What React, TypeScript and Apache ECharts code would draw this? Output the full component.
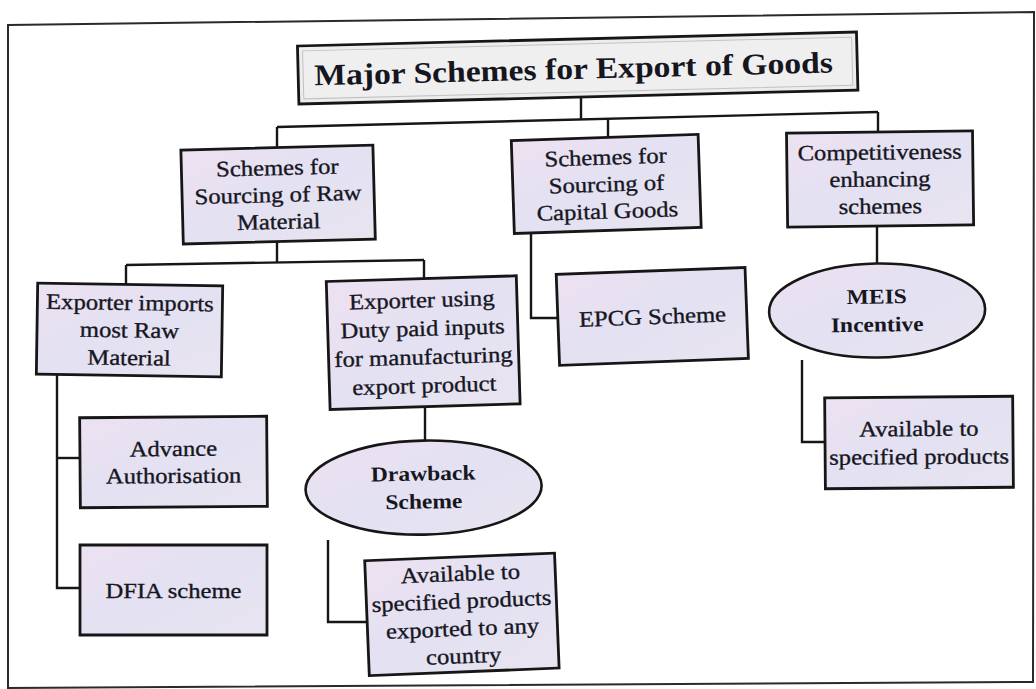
import React, { useEffect, useRef } from "react";
import * as echarts from "echarts";

// ---- Diagram content (texts) ----
const TITLE = "Major Schemes for Export of Goods";
const LEVEL1 = [
  "Schemes for\nSourcing of Raw\nMaterial",
  "Schemes for\nSourcing of\nCapital Goods",
  "Competitiveness\nenhancing\nschemes",
];
const RAW_CHILDREN = [
  "Exporter imports\nmost Raw\nMaterial",
  "Exporter using\nDuty paid inputs\nfor manufacturing\nexport product",
];
const IMPORT_SCHEMES = ["Advance\nAuthorisation", "DFIA scheme"];
const DUTY_SCHEME = "Drawback\nScheme";
const DUTY_NOTE = "Available to\nspecified products\nexported to any\ncountry";
const CAPITAL_SCHEME = "EPCG Scheme";
const MEIS_SCHEME = "MEIS\nIncentive";
const MEIS_NOTE = "Available to\nspecified products";

// ---- Layout (pixels): [centerX, centerY, width, height, rotation] ----
const FONT = "Liberation Serif, Times New Roman, serif";
const INK = "#16161f";
const LINE = "#161616";
const SX = 1.12;

type Box = [number, number, number, number, number];
const TITLE_BOX: Box = [577.5, 68, 559, 58, 0.025];
const L1_BOXES: Box[] = [
  [278, 194.5, 192, 94, 0.026],
  [606.5, 184, 187, 93, 0.033],
  [880, 179, 186, 94, 0.012],
];
const RAW_BOXES: Box[] = [
  [129.5, 330, 185, 91, -0.015],
  [423, 342.5, 190, 128, 0.03],
];
const IMPORT_BOXES: Box[] = [
  [173.5, 462, 187, 90, 0.008],
  [173.5, 590, 187, 90, 0.0],
];
const DUTY_NOTE_BOX: Box = [462, 614.5, 190, 115, 0.04];
const EPCG_BOX: Box = [652.5, 316.5, 189, 91, 0.037];
const MEIS_NOTE_BOX: Box = [919, 442.5, 188, 91, 0.008];
// [cx, cy, rx, ry, rotation]
const DRAWBACK_ELL = [423.5, 487.5, 118, 47, 0.02];
const MEIS_ELL = [877, 310.5, 108, 47, 0.015];

const CONNECTORS: number[][][] = [
  [[581, 97], [581, 119.5]],
  [[277, 127], [878, 112]],
  [[277, 127], [277, 148]],
  [[608, 118.7], [608, 138]],
  [[878, 112], [878, 132]],
  [[277, 241], [277, 262.5]],
  [[126, 265], [424, 260]],
  [[126, 265], [126, 285]],
  [[424, 260], [424, 278]],
  [[57, 375], [57, 588], [80, 588]],
  [[57, 458], [80, 458]],
  [[425, 405], [425, 442]],
  [[328, 540], [328, 622], [368, 622]],
  [[531, 231], [531, 318], [558, 318]],
  [[877, 226], [877, 265]],
  [[802, 360], [802, 442], [826, 442]],
];

function fillGrad() {
  return new echarts.graphic.LinearGradient(0, 0, 1, 1, [
    { offset: 0, color: "#ede1f1" },
    { offset: 0.5, color: "#e3e1f2" },
    { offset: 1, color: "#e9e4f0" },
  ]);
}

function rectEl(b: Box, fill: any, inset = 0, stroke = LINE, lw = 2.8, z = 2) {
  const [cx, cy, w, h, rot] = b;
  return {
    type: "rect",
    originX: cx,
    originY: cy,
    rotation: rot,
    shape: { x: cx - w / 2 + inset, y: cy - h / 2 + inset, width: w - inset * 2, height: h - inset * 2 },
    style: { fill, stroke, lineWidth: lw },
    z,
  };
}

function textEl(cx: number, cy: number, rot: number, text: string, size: number, bold: boolean, lh: number) {
  return {
    type: "text",
    x: cx,
    y: cy,
    rotation: rot,
    scaleX: SX,
    z: 5,
    style: {
      text,
      fill: INK,
      fontFamily: FONT,
      fontSize: size,
      fontWeight: bold ? "bold" : "normal",
      lineHeight: lh,
      align: "center",
      verticalAlign: "middle",
      textAlign: "center",
      textVerticalAlign: "middle",
      stroke: INK,
      lineWidth: bold ? 0 : 0.35,
    },
  };
}

function boxWithText(b: Box, text: string, size = 22, bold = false, lh = 27) {
  return [rectEl(b, fillGrad()), textEl(b[0], b[1], b[4], text, size, bold, lh)];
}

function ellipseWithText(e: number[], text: string) {
  return [
    {
      type: "ellipse",
      originX: e[0],
      originY: e[1],
      rotation: e[4],
      shape: { cx: e[0], cy: e[1], rx: e[2], ry: e[3] },
      style: { fill: fillGrad(), stroke: LINE, lineWidth: 2.6 },
      z: 2,
    },
    textEl(e[0], e[1], e[4], text, 21, true, 28),
  ];
}

export default function App() {
  const ref = useRef<HTMLDivElement>(null);
  useEffect(() => {
    if (!ref.current) return;
    const chart = echarts.init(ref.current, undefined, { renderer: "svg" });
    const elements: any[] = [];
    // outer frame (slightly skewed like the scanned page)
    elements.push({
      type: "polygon",
      shape: { points: [[8, 25], [1034, 12], [1033, 682], [8, 688]] },
      style: { fill: "#ffffff", stroke: "#2a2a2a", lineWidth: 2 },
      z: 0,
    });
    CONNECTORS.forEach((pts) =>
      elements.push({
        type: "polyline",
        shape: { points: pts },
        style: { fill: null, stroke: LINE, lineWidth: 2.4 },
        z: 1,
      })
    );
    // title
    elements.push(rectEl(TITLE_BOX, "#ededed"));
    elements.push(rectEl(TITLE_BOX, "#efefef", 5, "#c2c2c2", 1, 3));
    elements.push(textEl(TITLE_BOX[0] - 4, TITLE_BOX[1] + 1, TITLE_BOX[4], TITLE, 30, true, 34));

    L1_BOXES.forEach((b, i) => elements.push(...boxWithText(b, LEVEL1[i])));
    RAW_BOXES.forEach((b, i) => elements.push(...boxWithText(b, RAW_CHILDREN[i], 22, false, i === 1 ? 28.5 : 27.5)));
    IMPORT_BOXES.forEach((b, i) => elements.push(...boxWithText(b, IMPORT_SCHEMES[i])));
    elements.push(...boxWithText(DUTY_NOTE_BOX, DUTY_NOTE, 22, false, 27.5));
    elements.push(...boxWithText(EPCG_BOX, CAPITAL_SCHEME));
    elements.push(...boxWithText(MEIS_NOTE_BOX, MEIS_NOTE, 22, false, 28));
    elements.push(...ellipseWithText(DRAWBACK_ELL, DUTY_SCHEME));
    elements.push(...ellipseWithText(MEIS_ELL, MEIS_SCHEME));

    chart.setOption({
      animation: false,
      backgroundColor: "#ffffff",
      graphic: { elements },
    });
    return () => chart.dispose();
  }, []);
  return (
    <div
      ref={ref}
      style={{ position: "fixed", left: 0, top: 0, width: 1036, height: 689, background: "#fff" }}
    />
  );
}
